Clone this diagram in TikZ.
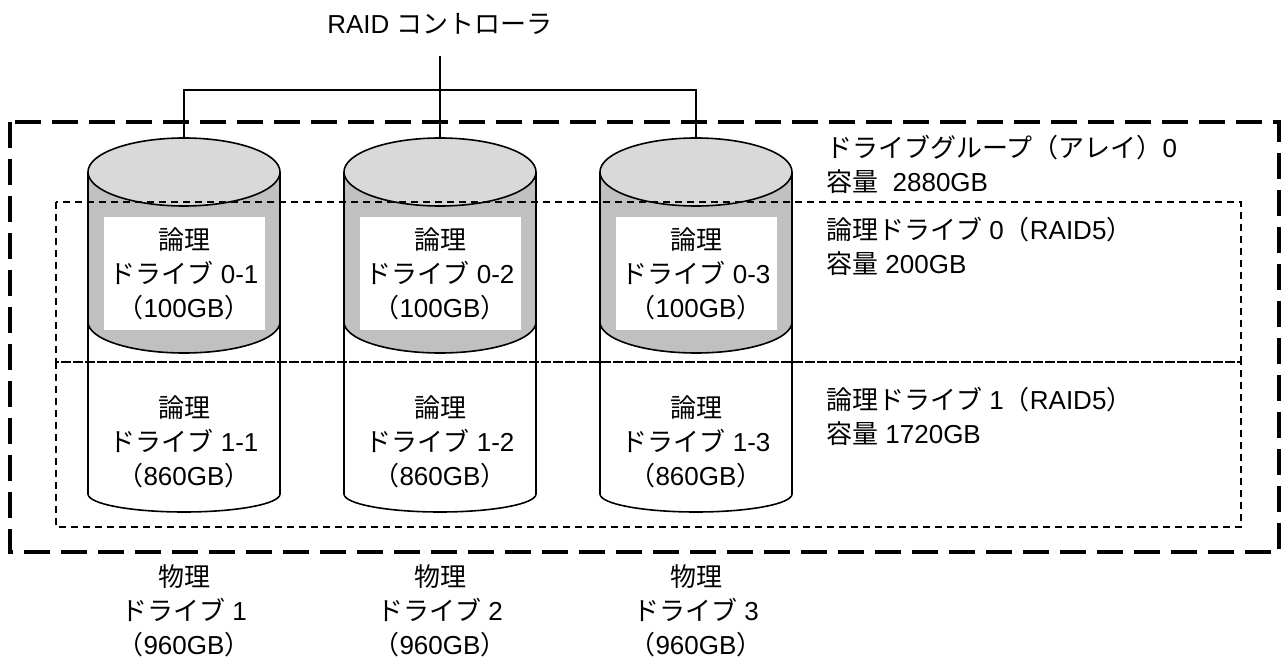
\documentclass[tikz,border=0pt]{standalone}
\usepackage{fontspec}
\setmainfont{Liberation Sans}
\newfontfamily\jpfont{Noto Sans CJK JP}
\newcommand\jp[1]{{\jpfont #1}}
\definecolor{topgray}{HTML}{D9D9D9}
\definecolor{bodygray}{HTML}{C0C0C0}

\begin{document}
\begin{tikzpicture}[x = 1pt, y = 1pt,
	label text/.style = {align = center, inner sep = 2pt, font = \fontsize{26}{34}\selectfont},
	drive line/.style = {line width = 1.6pt},
	group box/.style = {line width = 3.2pt, dash pattern = on 26pt off 11pt},
	logical box/.style = {line width = 1.6pt, dash pattern = on 7pt off 5pt}]

	\useasboundingbox (0, 0) rectangle (1285, 659);

	% Physical drives, each split into two logical parts

	\foreach \x/\n in {184/1, 440/2, 696/3} {
		\draw [drive line, fill = white] (\x - 96, 337) -- (\x - 96, 165) arc [start angle = 180, end angle = 360, x radius = 96, y radius = 18] -- (\x + 96, 337);
		\draw [drive line, fill = bodygray] (\x - 96, 487) -- (\x - 96, 337) arc [start angle = 180, end angle = 360, x radius = 96, y radius = 31] -- (\x + 96, 487);
		\draw [drive line, fill = topgray] (\x, 487) ellipse [x radius = 96, y radius = 34];
		\coordinate (top\n) at (\x, 521);
		\node [label text, fill = white, minimum width = 161pt, minimum height = 113pt, inner sep = 0pt] (upper\n) at (\x, 385.5)
			{\jp{論理}\\\jp{ドライブ} 0-\n\\\jp{（}100GB\jp{）}};
		\node [label text] (lower\n) at (\x, 217) {\jp{論理}\\\jp{ドライブ} 1-\n\\\jp{（}860GB\jp{）}};
		\node [label text] (phys\n) at (\x, 48) {\jp{物理}\\\jp{ドライブ} \n\\\jp{（}960GB\jp{）}};
	}

	% Drive group and logical drives

	\draw [group box] (10, 537) rectangle (1279, 107);
	\draw [logical box] (56, 457) rectangle (1241, 297);
	\draw [logical box] (56, 297) rectangle (1241, 132);

	\node [label text, align = left, anchor = west] (group) at (824, 494.5) {\jp{ドライブグループ（アレイ）}0\\\jp{容量}\ \ 2880GB};
	\node [label text, align = left, anchor = west] (logical0) at (824, 412.5) {\jp{論理ドライブ} 0\jp{（}RAID5\jp{）}\\\jp{容量} 200GB};
	\node [label text, align = left, anchor = west] (logical1) at (824, 242.5) {\jp{論理ドライブ} 1\jp{（}RAID5\jp{）}\\\jp{容量} 1720GB};

	% Controller and its connections

	\node [label text] (ctrl) at (440, 635) {RAID \jp{コントローラ}};
	\coordinate (bus) at (440, 569);
	\draw [drive line, shorten <= 19pt] (ctrl) -- (top2);
	\draw [drive line] (top1) |- (bus) -| (top3);

\end{tikzpicture}
\end{document}
